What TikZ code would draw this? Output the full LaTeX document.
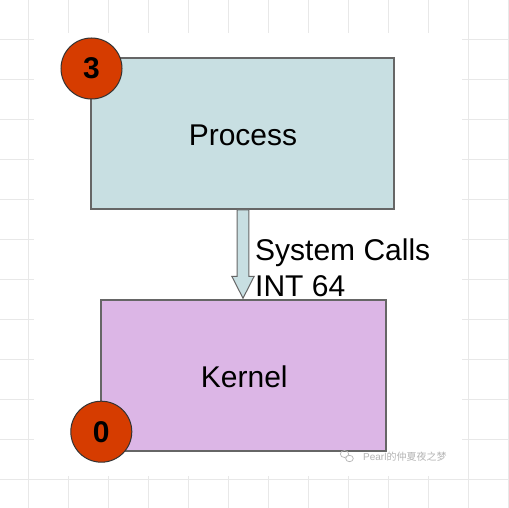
\documentclass[tikz,border=0pt]{standalone}
\usepackage{fontspec}
\setmainfont{Liberation Sans}
\newfontfamily\cjkfont{Noto Sans CJK SC}
\usetikzlibrary{calc}
\definecolor{procfill}{HTML}{C8DFE2}
\definecolor{kernfill}{HTML}{DCB6E6}
\definecolor{ringfill}{HTML}{D63C00}
\definecolor{boxline}{HTML}{666666}
\definecolor{gridline}{HTML}{E8E8E8}
\definecolor{wmark}{HTML}{B4B4B4}
\tikzset{
  bigbox/.style={draw=boxline, line width=1.5pt, rectangle, inner sep=0pt,
    font=\fontsize{30}{36}\selectfont, text=black},
  ring/.style={draw=black!80, line width=1pt, circle, fill=ringfill, inner sep=0pt,
    minimum size=61pt, font=\bfseries\fontsize{30}{36}\selectfont, text=black},
  blockarrow/.style={draw=boxline, line width=1pt, fill=procfill, line join=miter},
  lbl/.style={inner sep=0pt, anchor=base west, font=\fontsize{30}{36}\selectfont},
  boxtext/.style={inner sep=0pt, anchor=base, font=\fontsize{30}{36}\selectfont},
}
\begin{document}
\begin{tikzpicture}[x=1pt,y=-1pt]
\useasboundingbox (0,0) rectangle (509,508);
\fill[white] (0,0) rectangle (509,508);
% grid
\foreach \gx in {28,68,...,508} \draw[gridline, line width=1pt] (\gx,0) -- (\gx,508);
\foreach \gy in {39.5,79.5,...,500} \draw[gridline, line width=1pt] (0,\gy) -- (509,\gy);
\fill[white] (34,33) rectangle (462,476);
% boxes
\node[bigbox, fill=procfill, minimum width=303pt, minimum height=151pt] (proc) at (242.7,133.5) {};
\node[boxtext] (proctext) at (243,145.7) {Process};
\node[bigbox, fill=kernfill, minimum width=285pt, minimum height=151pt] (kern) at (243.5,375.5) {};
\node[boxtext] (kerntext) at (244.3,387) {Kernel};
% rings
\node[ring] (r3) at (91.5,68.5) {3};
\node[ring] (r0) at (101.3,431.7) {0};
% block arrow
\coordinate (a0) at (243,0);
\path (proc.south -| a0) coordinate (s0) (kern.north -| a0) coordinate (s1);
\draw[blockarrow] ($(s0)+(-5.8,0)$) -- ($(s1)+(-5.8,-23)$) -- ($(s1)+(-11.2,-23)$)
  -- ($(s1)+(0,-1)$) -- ($(s1)+(11.2,-23)$) -- ($(s1)+(5.8,-23)$) -- ($(s0)+(5.8,0)$) -- cycle;
% labels
\node[lbl] (sc) at (255,260.7) {System Calls};
\node[lbl] (int) at (255,296.7) {INT 64};
% watermark
\draw[wmark, line width=0.7pt] (344.5,454) ellipse (4.2 and 3.5);
\draw[wmark, line width=0.7pt, fill=white] (349.5,458.5) ellipse (3.8 and 3.2);
\node[inner sep=0pt, anchor=west, text=wmark, font=\fontsize{10}{12}\selectfont] (wm) at (363,457) {Pearl{\cjkfont 的仲夏夜之梦}};
\end{tikzpicture}
\end{document}
